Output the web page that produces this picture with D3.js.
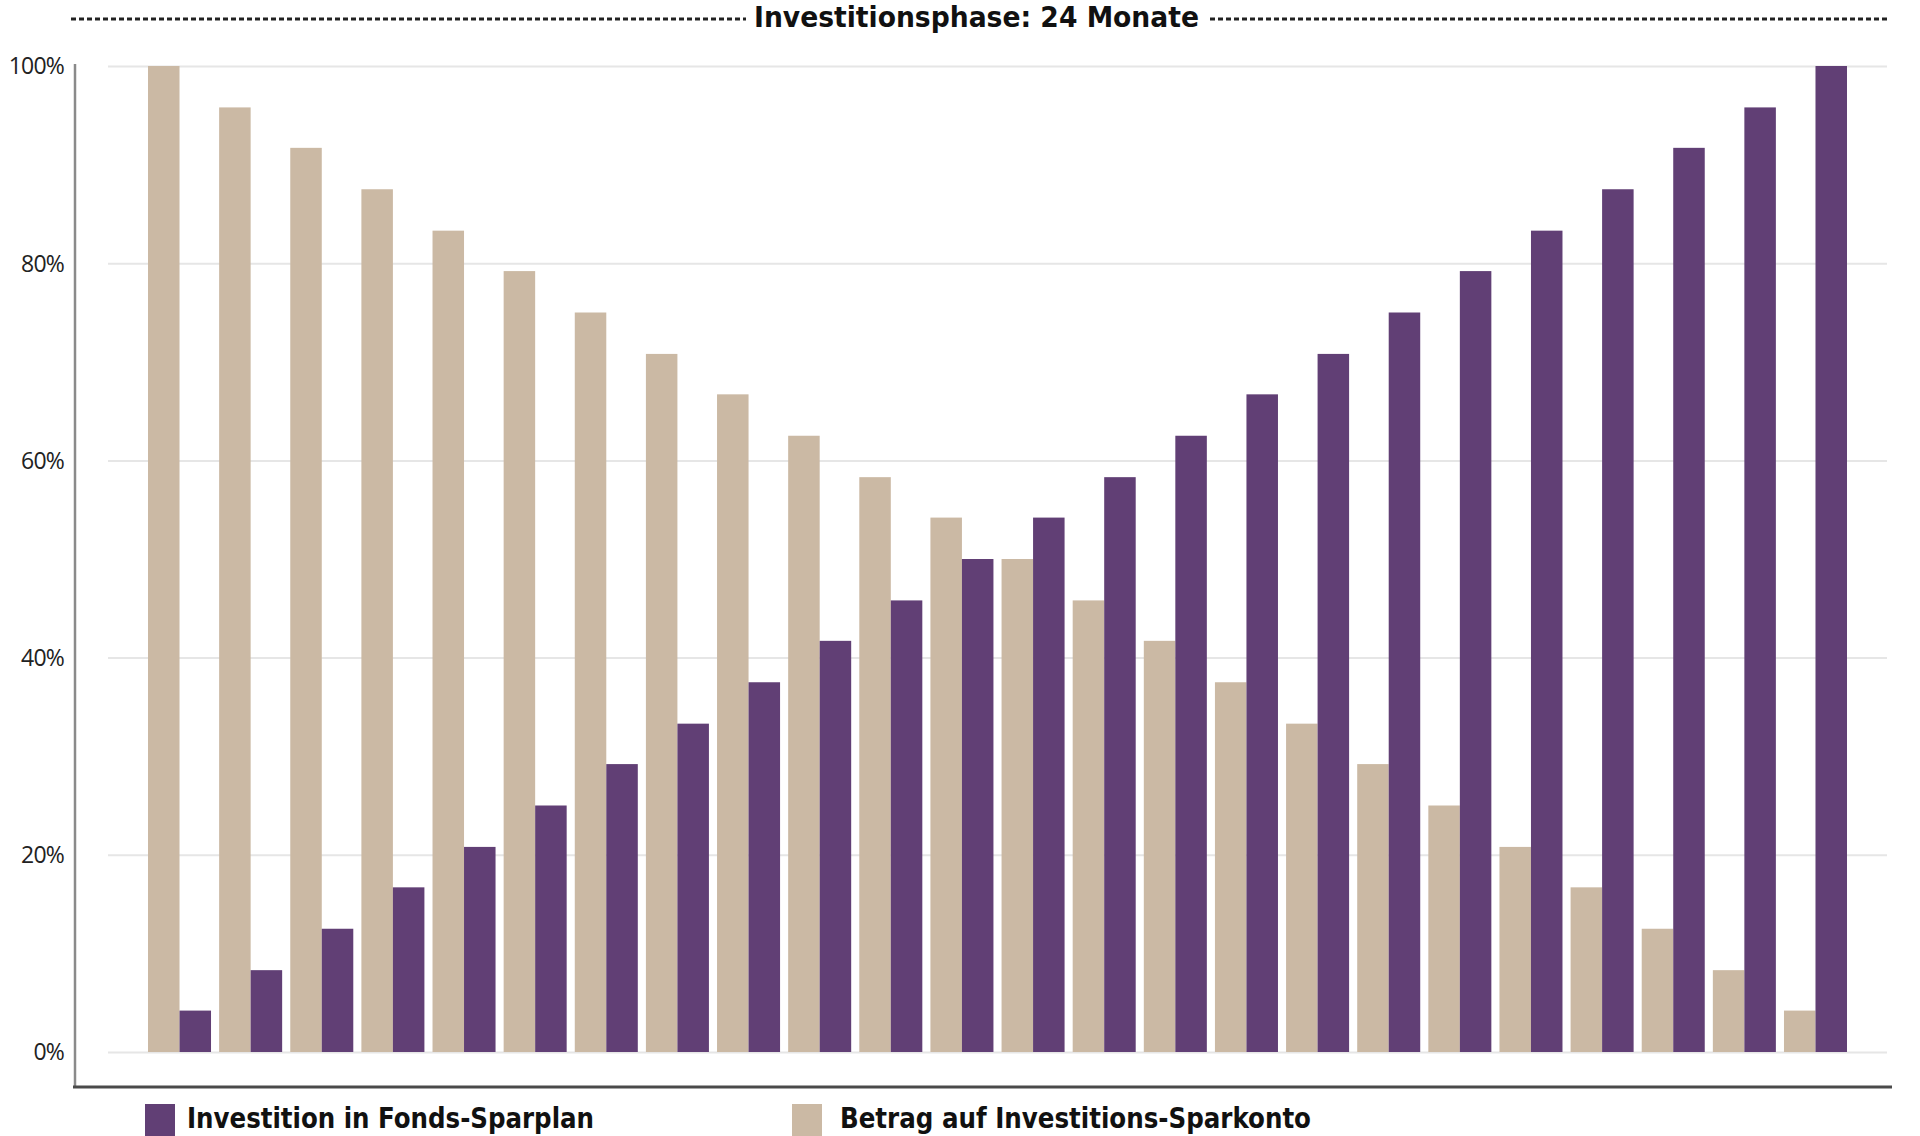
<!DOCTYPE html>
<html><head><meta charset="utf-8">
<script src="https://cdn.jsdelivr.net/npm/d3@7"></script>
<style>
html,body{margin:0;padding:0;background:#fff;}
svg{display:block;}
</style></head>
<body>
<svg id="chart" width="1920" height="1136"></svg>
<script>
// ---- data ----
const months = ["1","2","3","4","5","6","7","8","9","10","11","12","13","14","15","16","17","18","19","20","21","22","23","24"];
const sparkonto = [100,95.8,91.7,87.5,83.3,79.2,75,70.8,66.7,62.5,58.3,54.2,50,45.8,41.7,37.5,33.3,29.2,25,20.8,16.7,12.5,8.3,4.2];
const fonds     = [4.2,8.3,12.5,16.7,20.8,25,29.2,33.3,37.5,41.7,45.8,50,54.2,58.3,62.5,66.7,70.8,75,79.2,83.3,87.5,91.7,95.8,100];
const yTicks = [0,20,40,60,80,100];
const seriesNames = ["Betrag auf Investitions-Sparkonto","Investition in Fonds-Sparplan"];
const title = "Investitionsphase: 24 Monate";

const colSpar = "#cbb9a4";
const colFonds = "#613f75";

const svg = d3.select("#chart");
const font = "'Liberation Sans Narrow','DejaVu Sans Condensed','Roboto','Liberation Sans',sans-serif";

const x = d3.scaleBand().domain(months).range([148,1847]).paddingInner(0.114).paddingOuter(0);
const xi = d3.scaleBand().domain(["spar","fonds"]).range([0,x.bandwidth()]).padding(0);
const y = d3.scaleLinear().domain([0,100]).range([1052,66]);

// gridlines
const grid = svg.append("g").attr("transform","translate(108,0)")
  .call(d3.axisLeft(y).tickValues(yTicks).tickSize(-(1887-108)).tickFormat(""));
grid.select(".domain").remove();
grid.selectAll("line").attr("stroke","#e6e6e6").attr("stroke-width",2);

// y axis labels
const yAx = svg.append("g").attr("transform","translate(75,0)")
  .call(d3.axisLeft(y).tickValues(yTicks).tickSize(0).tickPadding(11).tickFormat(d=>d+"%"));
yAx.select(".domain").remove();
yAx.selectAll("text").attr("font-family","'Open Sans','Liberation Sans',sans-serif")
  .attr("font-size",23).attr("fill","#222").attr("dy","0.34em")
  .attr("letter-spacing","-0.8");

// y axis line
svg.append("line").attr("x1",75).attr("x2",75).attr("y1",y(100)-2).attr("y2",1087)
  .attr("stroke","#8a8a8a").attr("stroke-width",2.5);

// bars
const g = svg.append("g");
const groups = g.selectAll("g.grp").data(months).join("g").attr("class","grp")
  .attr("transform",d=>`translate(${x(d)},0)`);
groups.append("rect")
  .attr("x",xi("spar")).attr("width",xi.bandwidth())
  .attr("y",(d,i)=>y(sparkonto[i])).attr("height",(d,i)=>y(0)-y(sparkonto[i]))
  .attr("fill",colSpar);
groups.append("rect")
  .attr("x",xi("fonds")).attr("width",xi.bandwidth())
  .attr("y",(d,i)=>y(fonds[i])).attr("height",(d,i)=>y(0)-y(fonds[i]))
  .attr("fill",colFonds);

// bottom axis line
svg.append("line").attr("x1",73).attr("x2",1892).attr("y1",1087).attr("y2",1087)
  .attr("stroke","#4a4a4a").attr("stroke-width",3);

// title with dashed line
svg.append("line").attr("x1",71).attr("x2",746).attr("y1",19).attr("y2",19)
  .attr("stroke","#222").attr("stroke-width",3).attr("stroke-dasharray","5,3");
svg.append("line").attr("x1",1210).attr("x2",1887).attr("y1",19).attr("y2",19)
  .attr("stroke","#222").attr("stroke-width",3).attr("stroke-dasharray","5,3");
svg.append("text").attr("x",754).attr("y",27).text(title)
  .attr("font-family",font).attr("font-weight","bold").attr("font-size",28)
  .attr("fill","#111").attr("textLength",445).attr("lengthAdjust","spacingAndGlyphs");

// legend
const legend = [
  {name:seriesNames[1], color:colFonds, sx:145, tx:187, tw:407},
  {name:seriesNames[0], color:colSpar, sx:792, tx:840, tw:471}
];
const lg = svg.append("g");
legend.forEach(l=>{
  lg.append("rect").attr("x",l.sx).attr("y",1104).attr("width",30).attr("height",32).attr("fill",l.color);
  lg.append("text").attr("x",l.tx).attr("y",1128).text(l.name)
    .attr("font-family",font).attr("font-weight","bold").attr("font-size",29)
    .attr("fill","#111").attr("textLength",l.tw).attr("lengthAdjust","spacingAndGlyphs");
});
</script>
</body></html>
